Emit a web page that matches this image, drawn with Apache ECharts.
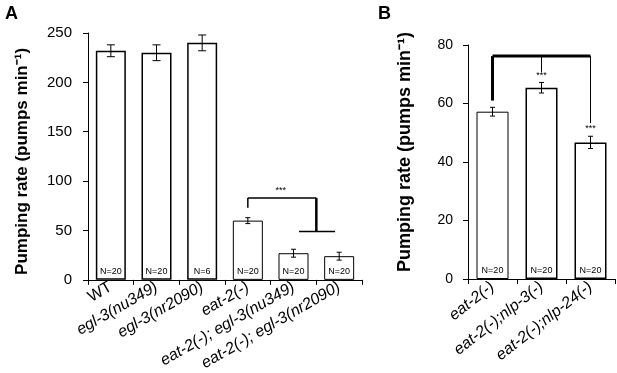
<!DOCTYPE html>
<html>
<head>
<meta charset="utf-8">
<script src="https://cdn.jsdelivr.net/npm/echarts@6/dist/echarts.min.js"></script>
<style>
  html, body { margin: 0; padding: 0; background: #fff; }
  #main { width: 617px; height: 373px; }
</style>
</head>
<body>
<div id="main"></div>
<script>
// ---- panel A ----
const catsA = ['WT', 'egl-3(nu349)', 'egl-3(nr2090)', 'eat-2(-)', 'eat-2(-); egl-3(nu349)', 'eat-2(-); egl-3(nr2090)'];
const meansA = [232, 230, 240, 60, 27, 24];
const errA = [6, 8, 8, 3, 4, 4];
const nA = ['N=20', 'N=20', 'N=6', 'N=20', 'N=20', 'N=20'];
const ticksA = [0, 50, 100, 150, 200, 250];
// significance bracket (category index, value)
const bracketA = [[3, 73], [3, 83], [4.5, 83], [4.5, 49]];
const footA = [[4.12, 49], [4.91, 49]];
const starsA = [[3.72, 90]];

// ---- panel B ----
const catsB = ['eat-2(-)', 'eat-2(-);nlp-3(-)', 'eat-2(-);nlp-24(-)'];
const meansB = [57.2, 65.4, 46.7];
const errB = [1.5, 1.8, 2.1];
const nB = ['N=20', 'N=20', 'N=20'];
const ticksB = [0, 20, 40, 60, 80];
const bracketB = [[0, 61], [0, 76.2], [2, 76.2], [2, 53.3]];
const midB = [[1, 76.2], [1, 70.8]];
const starsB = [[1, 69.6], [2, 51.6]];

// styling only
const capA = [4, 4, 4, 2.5, 2.5, 2.5];
const capB = [2.5, 2.5, 2.5];
const borderA = [1.5, 1.5, 1.5, 1, 1, 1];
const borderB = [1, 1.5, 1.5];

const FONT = '"Liberation Sans", Arial, sans-serif';
const yTitle = 'Pumping rate (pumps min\u207B\u00B9)';

let myChart = echarts.init(document.getElementById('main'));

// category axis parse rounds, so interpolate fractional positions by hand
function pt(api, x, y) {
  const i = Math.floor(x), f = x - i;
  const a = api.coord([i, y]);
  if (f === 0) return a;
  const b = api.coord([i + 1, y]);
  return [a[0] + (b[0] - a[0]) * f, a[1]];
}

function seg(p, q, w) {
  return { type: 'line', shape: { x1: p[0], y1: p[1], x2: q[0], y2: q[1] }, style: { stroke: '#000', lineWidth: w } };
}

function errorBar(means, errs, caps) {
  return {
    type: 'custom',
    data: means.map((m, i) => [i, m - errs[i], m + errs[i]]),
    silent: true,
    z: 5,
    renderItem: function (params, api) {
      const x = api.value(0);
      const cap = caps[params.dataIndex];
      const lo = api.coord([x, api.value(1)]);
      const hi = api.coord([x, api.value(2)]);
      return {
        type: 'group',
        children: [
          seg(lo, hi, 1),
          seg([lo[0] - cap, lo[1]], [lo[0] + cap, lo[1]], 1),
          seg([hi[0] - cap, hi[1]], [hi[0] + cap, hi[1]], 1)
        ]
      };
    }
  };
}

function starText(p) {
  return { type: 'text', x: p[0], y: p[1], style: { text: '***', align: 'center', verticalAlign: 'middle', fontSize: 9, fontFamily: FONT, fill: '#000' } };
}

function barSeries(means, labels, width, borders) {
  return {
    type: 'bar',
    barWidth: width,
    data: means.map((v, i) => ({ value: v, itemStyle: { borderWidth: borders[i] } })),
    itemStyle: { color: '#fff', borderColor: '#000', borderWidth: 1 },
    label: {
      show: true, position: 'insideBottom', distance: 4,
      formatter: p => labels[p.dataIndex],
      fontSize: 9, fontFamily: FONT, color: '#000'
    }
  };
}

function catAxis(idx, cats, rot) {
  return {
    type: 'category', gridIndex: idx, data: cats,
    axisLine: { lineStyle: { color: '#000', width: 1 } },
    axisTick: { show: true, length: 5, lineStyle: { color: '#000' } },
    axisLabel: {
      interval: 0, rotate: rot, margin: 6, color: '#000',
      formatter: v => v === 'WT' ? '{n|' + v + '}' : '{i|' + v + '}',
      rich: {
        n: { fontSize: 16, fontFamily: FONT, color: '#000' },
        i: { fontSize: 16, fontFamily: FONT, fontStyle: 'italic', color: '#000' }
      }
    }
  };
}

function valAxis(idx, ticks, labelSize, margin, gap, titleSize, pad) {
  return {
    type: 'value', gridIndex: idx,
    min: ticks[0], max: ticks[ticks.length - 1], interval: ticks[1] - ticks[0],
    splitLine: { show: false },
    axisLine: { show: true, lineStyle: { color: '#000', width: 1 } },
    axisTick: { show: true, length: 5, lineStyle: { color: '#000' } },
    axisLabel: { fontSize: labelSize, fontFamily: FONT, color: '#000', margin: margin },
    name: yTitle, nameLocation: 'middle', nameGap: gap,
    nameTextStyle: { fontSize: titleSize, fontWeight: 'bold', fontFamily: FONT, color: '#000', padding: pad }
  };
}

myChart.setOption({
  backgroundColor: '#fff',
  animation: false,
  title: [
    { text: 'A', left: 0, top: 0, textStyle: { fontSize: 18, fontWeight: 'bold', fontFamily: FONT, color: '#000' } },
    { text: 'B', left: 373, top: 0, textStyle: { fontSize: 18, fontWeight: 'bold', fontFamily: FONT, color: '#000' } }
  ],
  grid: [
    { left: 88, top: 33, width: 274, height: 247 },
    { left: 468, top: 45, width: 147, height: 234 }
  ],
  xAxis: [catAxis(0, catsA, 30), catAxis(1, catsB, 38)],
  yAxis: [
    valAxis(0, ticksA, 15, 16, 57, 17, [0, 10, 0, 0]),
    valAxis(1, ticksB, 14, 15, 54, 18, [0, 0, 0, 20])
  ],
  series: [
    Object.assign(barSeries(meansA, nA, 30, borderA), { xAxisIndex: 0, yAxisIndex: 0 }),
    Object.assign(errorBar(meansA, errA, capA), { xAxisIndex: 0, yAxisIndex: 0 }),
    {
      type: 'custom', xAxisIndex: 0, yAxisIndex: 0, silent: true, z: 6,
      data: [[0, 0]],
      renderItem: function (params, api) {
        const p = bracketA.map(d => pt(api, d[0], d[1]));
        const f = footA.map(d => pt(api, d[0], d[1]));
        return {
          type: 'group',
          children: [
            seg(p[0], p[1], 1.5), seg(p[1], p[2], 1.5), seg(p[2], p[3], 2.5),
            seg(f[0], f[1], 1.5)
          ].concat(starsA.map(s => starText(pt(api, s[0], s[1]))))
        };
      }
    },
    Object.assign(barSeries(meansB, nB, 32, borderB), { xAxisIndex: 1, yAxisIndex: 1 }),
    Object.assign(errorBar(meansB, errB, capB), { xAxisIndex: 1, yAxisIndex: 1 }),
    {
      type: 'custom', xAxisIndex: 1, yAxisIndex: 1, silent: true, z: 6,
      data: [[0, 0]],
      renderItem: function (params, api) {
        const p = bracketB.map(d => pt(api, d[0], d[1]));
        const m = midB.map(d => pt(api, d[0], d[1]));
        return {
          type: 'group',
          children: [
            seg(p[0], p[1], 3), seg(p[1], p[2], 3), seg(p[2], p[3], 1),
            seg(m[0], m[1], 1)
          ].concat(starsB.map(s => starText(pt(api, s[0], s[1]))))
        };
      }
    }
  ]
});
</script>
</body>
</html>
